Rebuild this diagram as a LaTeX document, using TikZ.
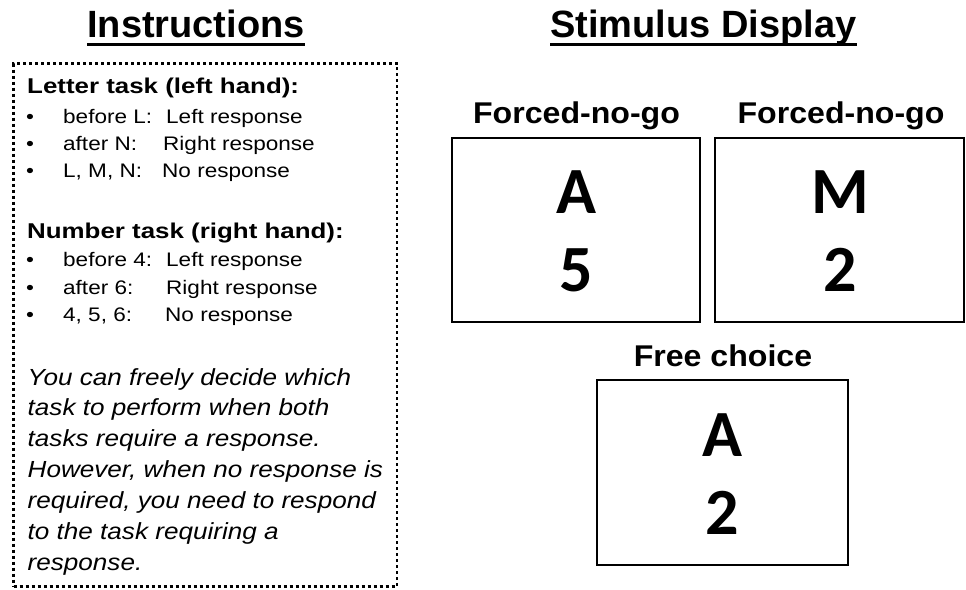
\documentclass[tikz,border=0pt]{standalone}
\usepackage{fontspec}
\setmainfont{Liberation Sans}
\newfontfamily\ftitle{Liberation Sans}
\newfontfamily\fhead[FakeStretch=1.21]{Liberation Sans}
\newfontfamily\flist[FakeStretch=1.15]{Liberation Sans}
\newfontfamily\fital[FakeStretch=1.12]{Liberation Sans}
\newfontfamily\flab[FakeStretch=1.07]{Liberation Sans}
\newfontfamily\fbig{Carlito}
\begin{document}
\begin{tikzpicture}[x=1pt,y=-1pt,
  title/.style={font=\ftitle\fontsize{38}{40}\selectfont\bfseries, inner sep=0pt, anchor=base},
  head/.style={font=\fhead\fontsize{21.4}{24}\selectfont\bfseries, inner sep=0pt, anchor=base west},
  item/.style={font=\flist\fontsize{19.6}{22}\selectfont, inner sep=0pt, anchor=base west},
  bul/.style={font=\flist\fontsize{19.6}{22}\selectfont, inner sep=0pt, anchor=base},
  ital/.style={font=\fital\fontsize{23.3}{26}\selectfont\itshape, inner sep=0pt, anchor=base west},
  lab/.style={font=\flab\fontsize{30}{32}\selectfont\bfseries, inner sep=0pt, anchor=base},
  big/.style={font=\fbig\fontsize{66}{70}\selectfont\bfseries, inner sep=0pt, anchor=base},
  stim/.style={draw, line width=2.8pt, inner sep=0pt},
  uline/.style={line width=3pt}
]
\useasboundingbox (0,0) rectangle (966,589);
\fill[white] (0,0) rectangle (966,589);

% titles
\node[title] (t1) at (196,37.3) {Instructions};
\draw[uline] ([yshift=-6.7pt]t1.base west) -- ([yshift=-6.7pt]t1.base east);
\node[title] (t2) at (703.5,37.3) {Stimulus Display};
\draw[uline] ([yshift=-6.7pt]t2.base west) -- ([yshift=-6.7pt]t2.base east);

% instruction box
\node[draw, line width=2.6pt, dash pattern=on 3pt off 3pt, minimum width=383.5pt, minimum height=523pt, inner sep=0pt] (ibox) at (205.25,325) {};

\node[head] (h1) at (27,93) {Letter task (left hand):};
\node[bul] (b1) at (30,123) {•};
\node[item] (l1) at (63,123) {before L:};
\node[item] (r1) at (166,123) {Left response};
\node[bul] (b2) at (30,150) {•};
\node[item] (l2) at (63,150) {after N:};
\node[item] (r2) at (163,150) {Right response};
\node[bul] (b3) at (30,177) {•};
\node[item] (l3) at (63,177) {L, M, N:};
\node[item] (r3) at (162,177) {No response};

\node[head] (h2) at (27,238.3) {Number task (right hand):};
\node[bul] (b4) at (30,266.7) {•};
\node[item] (l4) at (63,266.7) {before 4:};
\node[item] (r4) at (166,266.7) {Left response};
\node[bul] (b5) at (30,294) {•};
\node[item] (l5) at (63,294) {after 6:};
\node[item] (r5) at (166,294) {Right response};
\node[bul] (b6) at (30,321.7) {•};
\node[item] (l6) at (63,321.7) {4, 5, 6:};
\node[item] (r6) at (165,321.7) {No response};

\node[ital] (p1) at (27.5,385) {You can freely decide which};
\node[ital] (p2) at (27.5,415.9) {task to perform when both};
\node[ital] (p3) at (27.5,446.8) {tasks require a response.};
\node[ital] (p4) at (27.5,477.7) {However, when no response is};
\node[ital] (p5) at (27.5,508.6) {required, you need to respond};
\node[ital] (p6) at (27.5,539.5) {to the task requiring a};
\node[ital] (p7) at (27.5,570.4) {response.};

% stimulus displays
\node[lab] (fl1) at (576.5,123) {Forced-no-go};
\node[lab] (fl2) at (841,123) {Forced-no-go};
\node[lab] (fl3) at (723,366) {Free choice};

\node[stim, minimum width=248pt, minimum height=184pt] (s1) at (576,230) {};
\node[stim, minimum width=249pt, minimum height=184pt] (s2) at (839.5,230) {};
\node[stim, minimum width=251pt, minimum height=185pt] (s3) at (722.5,472.5) {};

\node[big] (s1a) at (576,213) {A};
\node[big] (s1b) at (576,291) {5};
\node[big] (s2a) at (840,213) {M};
\node[big] (s2b) at (840,291) {2};
\node[big] (s3a) at (722.5,456.7) {A};
\node[big] (s3b) at (722.5,534) {2};
\end{tikzpicture}
\end{document}
